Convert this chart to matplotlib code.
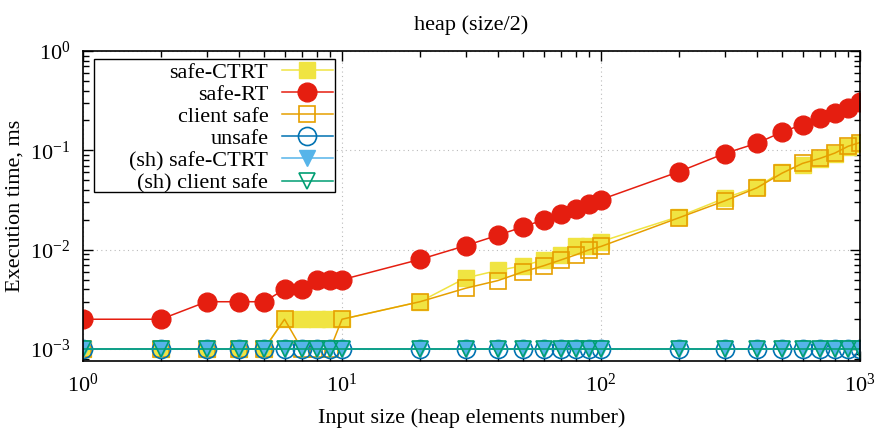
import matplotlib
matplotlib.use('Agg')
import matplotlib.pyplot as plt
import numpy as np
from matplotlib.ticker import FuncFormatter
from matplotlib.patches import Rectangle

plt.rcParams['font.family'] = ['Liberation Serif', 'DejaVu Serif']
plt.rcParams['mathtext.fontset'] = 'custom'
plt.rcParams['mathtext.rm'] = 'Liberation Serif'
plt.rcParams['mathtext.it'] = 'Liberation Serif:italic'

sizes = [1, 2, 3, 4, 5, 6, 7, 8, 9, 10,
         20, 30, 40, 50, 60, 70, 80, 90, 100,
         200, 300, 400, 500, 600, 700, 800, 900, 1000]

safe_ctrt = [0.001, 0.001, 0.001, 0.001, 0.001, 0.002, 0.002, 0.002, 0.002, 0.002,
             0.003, 0.0052, 0.0062, 0.0069, 0.0079, 0.0089, 0.0108, 0.011, 0.0121,
             0.0216, 0.033, 0.043, 0.061, 0.071, 0.081, 0.093, 0.107, 0.117]
safe_rt = [0.002, 0.002, 0.003, 0.003, 0.003, 0.004, 0.004, 0.005, 0.005, 0.005,
           0.008, 0.011, 0.014, 0.017, 0.020, 0.023, 0.026, 0.029, 0.032,
           0.061, 0.093, 0.118, 0.153, 0.182, 0.21, 0.238, 0.27, 0.304]
client_safe = [0.001, 0.001, 0.001, 0.001, 0.001, 0.002, 0.001, 0.001, 0.001, 0.002,
               0.003, 0.0041, 0.0049, 0.006, 0.0069, 0.0079, 0.0089, 0.01, 0.0108,
               0.021, 0.031, 0.042, 0.059, 0.074, 0.083, 0.094, 0.11, 0.12]
unsafe = [0.001] * len(sizes)
sh_safe_ctrt = [0.001] * len(sizes)
sh_client_safe = [0.001] * len(sizes)

W, H = 876, 434
fig = plt.figure(figsize=(W / 100, H / 100), dpi=100)
ax = fig.add_axes([83 / W, 1 - 361 / H, 777 / W, 310 / H])

ax.plot(sizes, safe_ctrt, color='#f0e442', lw=1.1, marker='s', ms=12,
        mec='#f0e442', mfc='#f0e442', label='safe-CTRT')
ax.plot(sizes, safe_rt, color='#e51e10', lw=1.1, marker='o', ms=13.5,
        mec='#e51e10', mfc='#e51e10', label='safe-RT')
ax.plot(sizes, client_safe, color='#e69f00', lw=1.1, marker='s', ms=12,
        mec='#e69f00', mfc='none', mew=1.2, label='client safe')
ax.plot(sizes, unsafe, color='#0072b2', lw=1.1, marker='o', ms=13,
        mec='#0072b2', mfc='none', mew=1.2, label='unsafe')
ax.plot(sizes, sh_safe_ctrt, color='#56b4e9', lw=1.1, marker='v', ms=12,
        mec='#56b4e9', mfc='#56b4e9', label='(sh) safe-CTRT')
ax.plot(sizes, sh_client_safe, color='#009e73', lw=1.1, marker='v', ms=12,
        mec='#009e73', mfc='none', mew=1.2, label='(sh) client safe')

ax.set_xscale('log')
ax.set_yscale('log')
ax.set_xlim(1, 1000)
ax.set_ylim(0.00076, 1)

fmt = FuncFormatter(lambda v, p: r'$10^{%d}$' % int(round(np.log10(v))))
ax.xaxis.set_major_formatter(fmt)
ax.yaxis.set_major_formatter(fmt)

ax.grid(True, which='major', color='#bbbbbb', linestyle=(0, (1, 3)), lw=0.8)
ax.tick_params(which='both', direction='in', top=True, right=True, labelsize=16)
ax.tick_params(which='major', length=7, width=1)
ax.tick_params(which='minor', length=4, width=1)
ax.tick_params(axis='x', pad=9)
ax.tick_params(axis='y', pad=9)
for s in ax.spines.values():
    s.set_linewidth(1.2)

ax.set_title('heap (size/2)', fontsize=16, pad=15)
ax.set_xlabel('Input size (heap elements number)', fontsize=16, labelpad=8)
ax.set_ylabel('Execution time, ms', fontsize=16, labelpad=4)

# legend: gnuplot-style box, text right aligned, sample on the right
box = Rectangle((94 / W, 1 - 192 / H), 241 / W, 133 / H, transform=fig.transFigure,
                facecolor='white', edgecolor='black', lw=1.0, zorder=4)
ax.add_artist(box)
box.set_clip_on(False)
leg = ax.legend(loc='upper right', bbox_to_anchor=(335 / W, 1 - 60 / H),
                bbox_transform=fig.transFigure, markerfirst=False, fontsize=16,
                frameon=False, borderpad=0.1, labelspacing=0.07,
                handlelength=2.3, handletextpad=0.6, borderaxespad=0)
leg.set_zorder(5)
for t in leg.get_texts():
    t.set_ha('right')
leg._legend_box.align = 'right'

fig.savefig('out.png', dpi=100)
